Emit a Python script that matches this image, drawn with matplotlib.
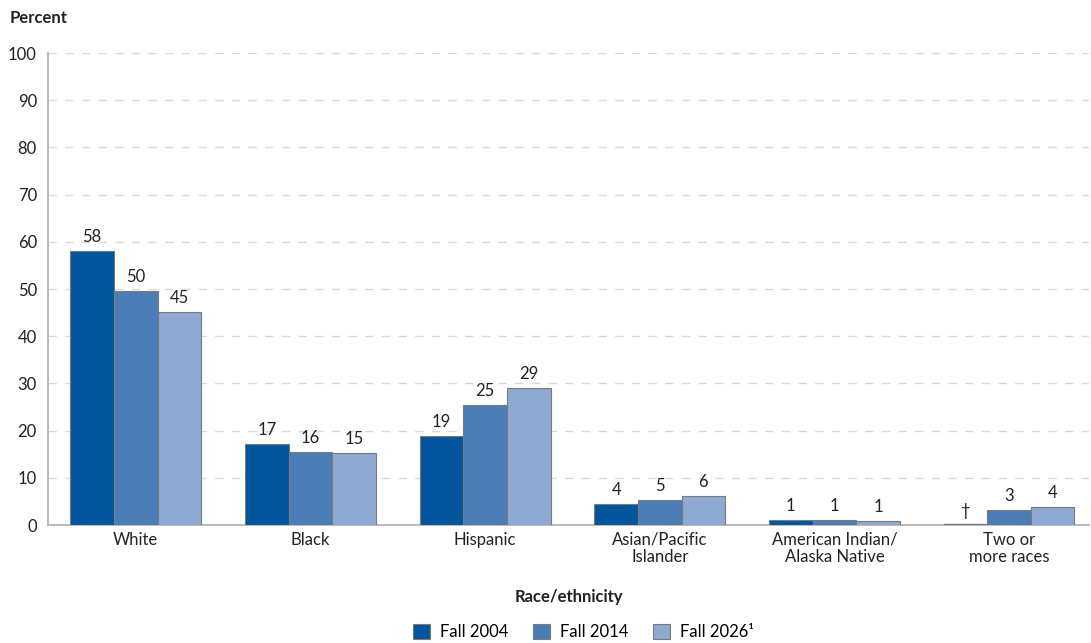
import numpy as np
import matplotlib.pyplot as plt

categories = ['White', 'Black', 'Hispanic', 'Asian/Pacific\nIslander',
              'American Indian/\nAlaska Native', 'Two or\nmore races']
fall_2004 = [58.1, 17.2, 18.9, 4.4, 1.1, 0.0]
fall_2014 = [49.6, 15.5, 25.4, 5.3, 1.0, 3.2]
fall_2026 = [45.1, 15.3, 29.0, 6.1, 0.9, 3.8]
labels_2004 = ['58', '17', '19', '4', '1', '\u2020']
labels_2014 = ['50', '16', '25', '5', '1', '3']
labels_2026 = ['45', '15', '29', '6', '1', '4']
series_names = ['Fall 2004', 'Fall 2014', 'Fall 2026\u00b9']
colors = ['#00559b', '#4a7db6', '#8eaad2']

plt.rcParams['font.family'] = ['Lato', 'DejaVu Sans']

fig = plt.figure(figsize=(10.91, 6.43), dpi=100)
ax = fig.add_axes([0.044, 0.1835, 0.954, 0.734])

x = np.arange(len(categories))
w = 0.25
all_vals = [fall_2004, fall_2014, fall_2026]
all_labels = [labels_2004, labels_2014, labels_2026]
handles = []
for i, (vals, labs) in enumerate(zip(all_vals, all_labels)):
    pos = x + (i - 1) * w
    b = ax.bar(pos, vals, width=w, color=colors[i], edgecolor='#7a7a7a',
               linewidth=0.8, zorder=3, label=series_names[i])
    handles.append(b)
    for p, v, t in zip(pos, vals, labs):
        ax.text(p, v + 1.3, t, ha='center', va='bottom', fontsize=12,
                color='#222222')

# zero-height bar still shows as a thin line on the axis
ax.plot([x[5] - 1.5 * w, x[5] - 0.5 * w], [0.15, 0.15], color='#7a7a7a',
        linewidth=1.0, zorder=4)

ax.set_xlim(-0.503, 5.457)
ax.set_ylim(0, 100)
ax.set_yticks(np.arange(0, 101, 10))
ax.yaxis.grid(True, linestyle=(0, (6, 6)), color='#d9d9d9', linewidth=1)
ax.set_axisbelow(True)
ax.set_xticks(x)
ax.set_xticklabels(categories, fontsize=12, color='#222222', linespacing=1.1)
ax.tick_params(axis='both', length=0, labelsize=12, colors='#222222')
ax.tick_params(axis='x', pad=5)
ax.tick_params(axis='y', pad=8)
for s in ['top', 'right']:
    ax.spines[s].set_visible(False)
ax.spines['left'].set_color('#bbbbbb')
ax.spines['bottom'].set_color('#bbbbbb')
ax.spines['left'].set_linewidth(1.5)
ax.spines['bottom'].set_linewidth(1.5)

fig.text(0.009, 0.972, 'Percent', fontsize=12, fontweight='bold',
         ha='left', va='center', color='#222222')
fig.text(0.521, 0.071, 'Race/ethnicity', fontsize=12, fontweight='bold',
         ha='center', va='center', color='#222222')

fig.legend(handles=handles, loc='center', bbox_to_anchor=(0.535, 0.017),
           ncol=3, frameon=False, fontsize=12, handlelength=1.0,
           handleheight=1.0, handletextpad=0.6, columnspacing=1.5)

fig.savefig('out.png', dpi=100)
